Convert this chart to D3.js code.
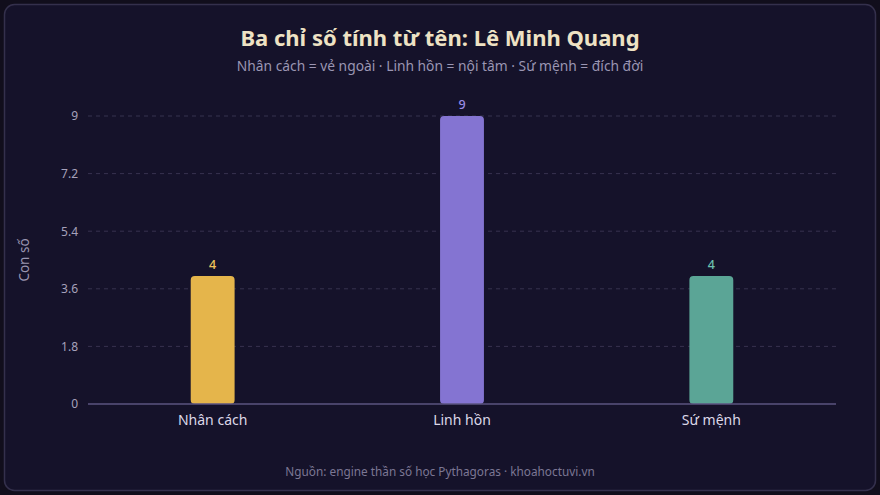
<!DOCTYPE html>
<html>
<head>
<meta charset="utf-8">
<script src="https://cdn.jsdelivr.net/npm/d3@7"></script>
<style>
  html, body { margin: 0; padding: 0; background: #110e1c; }
  svg { display: block; font-family: "Noto Sans", "DejaVu Sans", sans-serif; }
</style>
</head>
<body>
<div id="chart"></div>
<script>
const categories = ["Nhân cách", "Linh hồn", "Sứ mệnh"];
const values = [4, 9, 4];
const barColors = ["#e5b54b", "#8474d2", "#5ba596"];
const labelColors = ["#f0c35a", "#9b8ce6", "#6cc0ae"];
const yTicks = [0, 1.8, 3.6, 5.4, 7.2, 9];

function draw() {
  const width = 880;
  const height = 495;
  const margin = {top: 116, right: 44, bottom: 91, left: 88};

  const svg = d3.select("#chart")
    .append("svg")
    .attr("width", width)
    .attr("height", height);

  // card
  svg.append("rect")
    .attr("x", 4.5).attr("y", 4.5)
    .attr("width", width - 9).attr("height", height - 9)
    .attr("rx", 10)
    .attr("fill", "#15122a")
    .attr("stroke", "#34304c")
    .attr("stroke-width", 1.5);

  const x = d3.scaleBand()
    .domain(categories)
    .range([margin.left, width - margin.right])
    .padding(0);

  const y = d3.scaleLinear()
    .domain([0, 9])
    .range([height - margin.bottom, margin.top]);

  // grid
  svg.append("g")
    .selectAll("line")
    .data(yTicks.filter(d => d > 0))
    .join("line")
    .attr("x1", margin.left)
    .attr("x2", width - margin.right)
    .attr("y1", d => y(d))
    .attr("y2", d => y(d))
    .attr("stroke", "#37324f")
    .attr("stroke-dasharray", "4,4");

  // y axis
  const yAxis = svg.append("g")
    .attr("transform", `translate(${margin.left},0)`)
    .call(d3.axisLeft(y).tickValues(yTicks).tickSize(0).tickPadding(10).tickFormat(d => d));
  yAxis.select(".domain").remove();
  yAxis.selectAll("text")
    .attr("fill", "#a6a1ba")
    .attr("font-size", 12)
    .attr("font-family", "Noto Sans, sans-serif");

  svg.append("text")
    .attr("transform", `translate(29,${(y(0) + y(9)) / 2}) rotate(-90)`)
    .attr("text-anchor", "middle")
    .attr("fill", "#9a95b0")
    .attr("font-size", 13.5)
    .text("Con số");

  // bars
  const bw = x.bandwidth() * 0.176;
  svg.append("g")
    .selectAll("rect")
    .data(values)
    .join("rect")
    .attr("x", (d, i) => x(categories[i]) + x.bandwidth() / 2 - bw / 2)
    .attr("y", d => y(d))
    .attr("width", bw)
    .attr("height", d => y(0) - y(d))
    .attr("rx", 4)
    .attr("fill", (d, i) => barColors[i]);

  // value labels
  svg.append("g")
    .selectAll("text")
    .data(values)
    .join("text")
    .attr("x", (d, i) => x(categories[i]) + x.bandwidth() / 2)
    .attr("y", d => y(d) - 7)
    .attr("text-anchor", "middle")
    .attr("fill", (d, i) => labelColors[i])
    .attr("font-size", 12.5)
    .attr("font-weight", 500)
    .text(d => d);

  // x axis baseline
  svg.append("line")
    .attr("x1", margin.left)
    .attr("x2", width - margin.right)
    .attr("y1", y(0))
    .attr("y2", y(0))
    .attr("stroke", "#5b5480")
    .attr("stroke-width", 1.5);

  svg.append("g")
    .selectAll("text")
    .data(categories)
    .join("text")
    .attr("x", d => x(d) + x.bandwidth() / 2)
    .attr("y", y(0) + 21)
    .attr("text-anchor", "middle")
    .attr("fill", "#dcd8e8")
    .attr("font-size", 14)
    .text(d => d);

  // titles
  svg.append("text")
    .attr("x", width / 2)
    .attr("y", 46)
    .attr("text-anchor", "middle")
    .attr("fill", "#eee2c4")
    .attr("font-size", 22)
    .attr("font-weight", 700)
    .text("Ba chỉ số tính từ tên: Lê Minh Quang");

  svg.append("text")
    .attr("x", width / 2)
    .attr("y", 71)
    .attr("text-anchor", "middle")
    .attr("fill", "#9b96b3")
    .attr("font-size", 13.8)
    .text("Nhân cách = vẻ ngoài · Linh hồn = nội tâm · Sứ mệnh = đích đời");

  svg.append("text")
    .attr("x", width / 2)
    .attr("y", 476)
    .attr("text-anchor", "middle")
    .attr("fill", "#7c7794")
    .attr("font-size", 11.8)
    .text("Nguồn: engine thần số học Pythagoras · khoahoctuvi.vn");
}
draw();
</script>
</body>
</html>
